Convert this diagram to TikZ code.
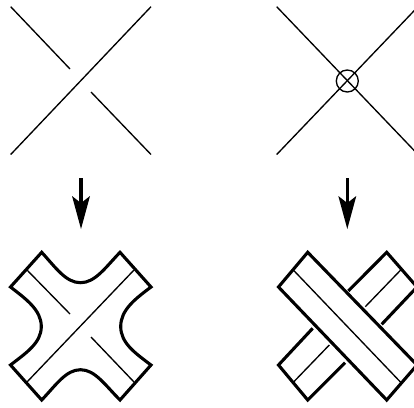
\documentclass[tikz,border=0pt]{standalone}
\tikzset{thinline/.style={line width=1.35pt},thickline/.style={line width=3.1pt,line join=miter},
arrowshaft/.style={line width=3.6pt},arrowhead/.style={fill=black,draw=none}}
\begin{document}
\begin{tikzpicture}[x=1pt,y=-1pt]
\useasboundingbox (0,0) rectangle (414,407);
\clip (0,0) rectangle (414,407);
% top left
\draw[thinline] (10.7,6.7) -- (70,69);
\draw[thinline] (91,92) -- (151,154.5);
\draw[thinline] (151,6.7) -- (10.7,154.5);
% top right
\draw[thinline] (276.7,6.7) -- (418,154.5);
\draw[thinline] (418,6.7) -- (276.7,154.5);
\draw[thinline] (347.3,81) circle (11);
% arrows
\foreach \x in {81,347.3}{
\draw[arrowshaft] (\x,178) -- (\x,205);
\fill[arrowhead] (\x,229) -- (\x-9,196) -- (\x,203) -- (\x+9,196) -- cycle;
}
% bottom left
\draw[thickline] (41.7,252.3) .. controls (56,268) and (66,282.7) .. (80.5,282.7)
 .. controls (95,282.7) and (105,268) .. (120,252.3) -- (151,287)
 .. controls (135,299) and (120.7,310) .. (120.7,326.5)
 .. controls (120.7,343) and (135,353) .. (151,365) -- (120,400)
 .. controls (105,385) and (95,369.7) .. (80.5,369.7)
 .. controls (66,369.7) and (56,385) .. (41.7,400) -- (10.5,365)
 .. controls (26,353) and (41.3,343) .. (41.3,326.5)
 .. controls (41.3,310) and (26,299) .. (10.5,287) -- cycle;
\draw[thinline] (27,270) -- (70,314);
\draw[thinline] (134,270) -- (27,382);
\draw[thinline] (91,337) -- (134,382);
% bottom right under strip
\draw[thickline] (312.7,328.3) -- (278.5,365) -- (307.7,400) -- (345,362.7);
\draw[thickline] (348.3,291) -- (386.7,252.3) -- (417,287) -- (381.7,324.3);
\draw[thinline] (400.7,270) -- (365.3,306.7);
\draw[thinline] (329.3,345) -- (293.3,382.3);
% over strip
\draw[thickline] (307.7,252.3) -- (278.5,287) -- (386.7,400) -- (417,365) -- cycle;
\draw[thinline] (293.3,270) -- (400.7,382.3);
\end{tikzpicture}
\end{document}
